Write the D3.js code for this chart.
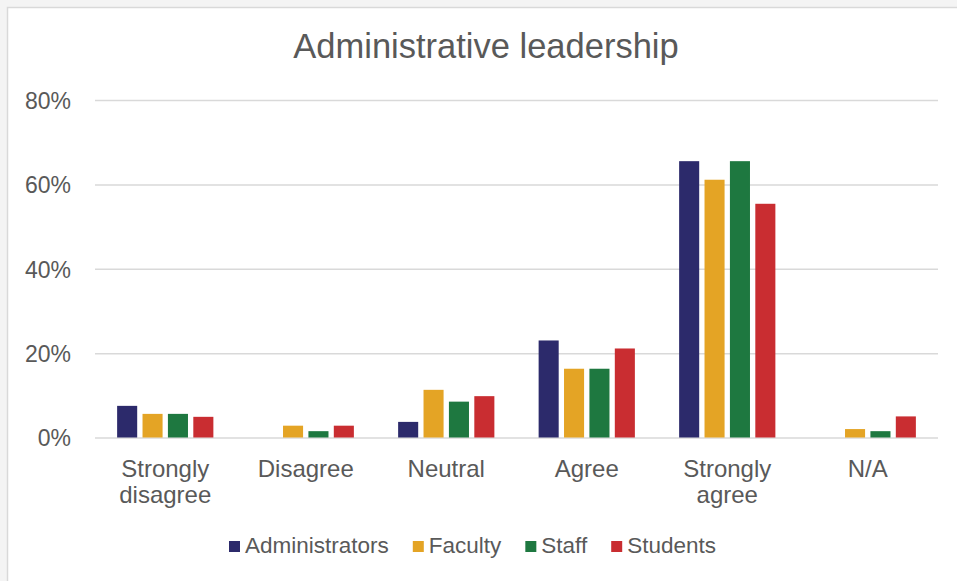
<!DOCTYPE html>
<html>
<head>
<meta charset="utf-8">
<script src="https://cdn.jsdelivr.net/npm/d3@7"></script>
<style>
  html, body { margin: 0; padding: 0; background: #f4f4f4; }
  svg { display: block; }
  text { font-family: "Liberation Sans", Arial, sans-serif; fill: #595959; }
</style>
</head>
<body>
<svg id="chart" width="957" height="581"></svg>
<script>
const title = "Administrative leadership";
const categories = ["Strongly disagree", "Disagree", "Neutral", "Agree", "Strongly agree", "N/A"];
const categoryLines = [["Strongly", "disagree"], ["Disagree"], ["Neutral"], ["Agree"], ["Strongly", "agree"], ["N/A"]];
const seriesNames = ["Administrators", "Faculty", "Staff", "Students"];
const seriesColors = ["#2c2a6b", "#e4a425", "#1e7840", "#c92d31"];
const administrators = [0.075, 0.0, 0.037, 0.23, 0.655, 0.0];
const faculty        = [0.056, 0.028, 0.113, 0.163, 0.611, 0.020];
const staff          = [0.056, 0.015, 0.085, 0.163, 0.655, 0.015];
const students       = [0.049, 0.028, 0.098, 0.211, 0.554, 0.050];
const yTicks = [0, 0.2, 0.4, 0.6, 0.8];

const seriesValues = [administrators, faculty, staff, students];
const data = categories.map((c, i) => ({
  cat: c,
  values: seriesNames.map((s, j) => ({ series: s, value: seriesValues[j][i], color: seriesColors[j] }))
}));

const svg = d3.select("#chart");

// chart frame
svg.append("rect").attr("x", 7.5).attr("y", 7.5).attr("width", 980).attr("height", 600)
  .attr("fill", "#ffffff").attr("stroke", "#d9d9d9").attr("stroke-width", 1.5);

const plot = { left: 95, right: 938, top: 100, bottom: 437.5 };

const x0 = d3.scaleBand().domain(categories).range([plot.left, plot.right])
  .paddingInner(0.315).paddingOuter(0.1575);
const x1 = d3.scaleBand().domain(seriesNames).range([0, x0.bandwidth()])
  .paddingInner(0.21).paddingOuter(0);
const y = d3.scaleLinear().domain([0, 0.8]).range([plot.bottom, plot.top]);

// gridlines
const yAxis = d3.axisLeft(y).tickValues(yTicks).tickFormat(d3.format(".0%"))
  .tickSize(-(plot.right - plot.left)).tickPadding(24);
const gy = svg.append("g").attr("transform", `translate(${plot.left},0)`).call(yAxis);
gy.select(".domain").remove();
gy.selectAll(".tick line").attr("stroke", "#d9d9d9").attr("stroke-width", 1.5);
gy.selectAll(".tick text").attr("font-size", 23).attr("fill", "#595959")
  .attr("font-family", "Liberation Sans, Arial, sans-serif").attr("dy", "0.36em");

// bars
const groups = svg.append("g").selectAll("g").data(data).join("g")
  .attr("transform", d => `translate(${x0(d.cat)},0)`);
groups.selectAll("rect").data(d => d.values).join("rect")
  .attr("x", d => x1(d.series))
  .attr("width", x1.bandwidth())
  .attr("y", d => y(d.value))
  .attr("height", d => y(0) - y(d.value))
  .attr("fill", d => d.color);

// category labels
const xAxis = d3.axisBottom(x0).tickSize(0).tickFormat("");
const gx = svg.append("g").attr("transform", `translate(0,${plot.bottom})`).call(xAxis);
gx.select(".domain").remove();
categories.forEach((c, i) => {
  const t = svg.append("text")
    .attr("x", x0(c) + x0.bandwidth() / 2)
    .attr("y", 477)
    .attr("text-anchor", "middle")
    .attr("font-size", 24);
  categoryLines[i].forEach((line, k) => {
    t.append("tspan").attr("x", x0(c) + x0.bandwidth() / 2).attr("dy", k === 0 ? 0 : 26).text(line);
  });
});

// title
svg.append("text").attr("x", 486).attr("y", 58).attr("text-anchor", "middle")
  .attr("font-size", 34.5).text(title);

// legend
const legend = svg.append("g");
let lx = 229;
seriesNames.forEach((s, j) => {
  legend.append("rect").attr("x", lx).attr("y", 541).attr("width", 11).attr("height", 11)
    .attr("fill", seriesColors[j]);
  const t = legend.append("text").attr("x", lx + 16).attr("y", 553)
    .attr("font-size", 22.5).text(s);
  lx += 16 + t.node().getComputedTextLength() + 24;
});
</script>
</body>
</html>
